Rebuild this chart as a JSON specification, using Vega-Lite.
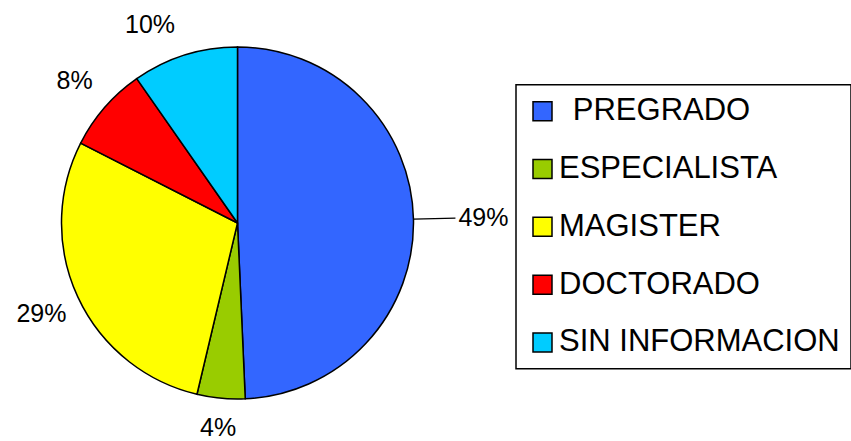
{
  "$schema": "https://vega.github.io/schema/vega-lite/v6.json",
  "width": 475,
  "height": 444,
  "padding": 0,
  "autosize": {"type": "pad"},
  "background": "white",
  "config": {
    "view": {"stroke": null},
    "font": "Liberation Sans",
    "legend": {
      "orient": "none",
      "legendX": 516,
      "legendY": 83.75,
      "padding": 11,
      "strokeColor": "black",
      "strokeWidth": 1.5,
      "symbolType": "square",
      "symbolSize": 361,
      "symbolStrokeColor": "black",
      "symbolStrokeWidth": 1.5,
      "symbolOpacity": 1,
      "labelFontSize": 31,
      "labelFont": "Liberation Sans",
      "labelColor": "black",
      "rowPadding": 25.8,
      "labelOffset": 1,
      "labelLimit": 0
    }
  },
  "data": {
    "values": [
      {"cat": "PREGRADO", "value": 49.3, "label": "49%"},
      {"cat": "ESPECIALISTA", "value": 4.4, "label": "4%"},
      {"cat": "MAGISTER", "value": 28.8, "label": "29%"},
      {"cat": "DOCTORADO", "value": 7.8, "label": "8%"},
      {"cat": "SIN INFORMACION", "value": 9.7, "label": "10%"}
    ]
  },
  "transform": [{"window": [{"op": "row_number", "as": "idx"}]}],
  "encoding": {
    "theta": {"field": "value", "type": "quantitative", "stack": true},
    "order": {"field": "idx", "type": "quantitative"}
  },
  "layer": [
    {
      "mark": {"type": "arc", "radius": 176, "stroke": "black", "strokeWidth": 1.5},
      "encoding": {
        "color": {
          "field": "cat",
          "type": "nominal",
          "sort": ["PREGRADO", "ESPECIALISTA", "MAGISTER", "DOCTORADO", "SIN INFORMACION"],
          "scale": {
            "domain": ["PREGRADO", "ESPECIALISTA", "MAGISTER", "DOCTORADO", "SIN INFORMACION"],
            "range": ["#3366FF", "#99CC00", "#FFFF00", "#FF0000", "#00CCFF"]
          },
          "legend": {
            "title": null,
            "labelExpr": "datum.value === 'PREGRADO' ? '\u200b\u00a0\u2006PREGRADO' : datum.label"
          }
        }
      }
    },
    {
      "mark": {"type": "arc", "radius": 218, "radius2": 176, "padAngle": 3.14, "fillOpacity": 0, "strokeWidth": 1.2},
      "encoding": {
        "stroke": {"condition": {"test": "datum.cat === 'PREGRADO'", "value": "black"}, "value": null}
      }
    },
    {
      "mark": {"type": "text", "radius": 216, "fontSize": 25, "align": "center", "baseline": "middle", "color": "black"},
      "encoding": {
        "text": {"condition": {"test": "datum.cat === 'MAGISTER' || datum.cat === 'DOCTORADO'", "field": "label"}, "value": ""}
      }
    },
    {
      "mark": {"type": "text", "radius": 206, "fontSize": 25, "align": "center", "baseline": "middle", "color": "black"},
      "encoding": {
        "text": {"condition": {"test": "datum.cat === 'ESPECIALISTA'", "field": "label"}, "value": ""}
      }
    },
    {
      "mark": {"type": "text", "radius": 208, "fontSize": 25, "align": "right", "baseline": "middle", "color": "black"},
      "encoding": {
        "text": {"condition": {"test": "datum.cat === 'SIN INFORMACION'", "field": "label"}, "value": ""}
      }
    },
    {
      "mark": {"type": "text", "radius": 221, "fontSize": 25, "align": "left", "baseline": "middle", "color": "black"},
      "encoding": {
        "text": {"condition": {"test": "datum.cat === 'PREGRADO'", "field": "label"}, "value": ""}
      }
    }
  ]
}
